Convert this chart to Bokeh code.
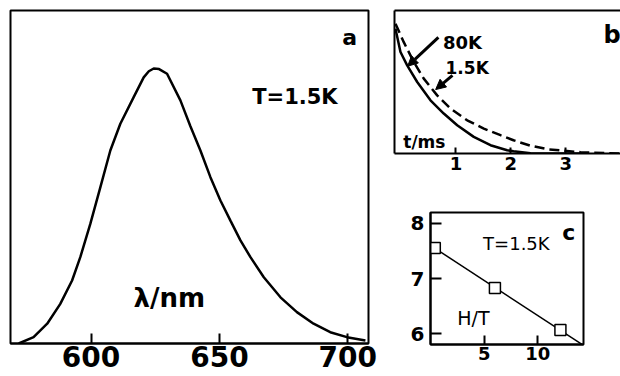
import numpy as np
from bokeh.plotting import figure
from bokeh.layouts import row, column
from bokeh.models import FixedTicker, LinearAxis, Arrow, NormalHead
from bokeh.core.properties import value
from bokeh.embed import file_html
from bokeh.resources import INLINE

FONT = "DejaVu Sans"

# ---------------- data ----------------
# panel a: emission spectrum at T = 1.5 K
wavelength_nm = [571.8, 577.6, 582.9, 588.0, 592.6, 595.8, 599.7, 603.6, 607.5,
                 611.4, 616.6, 620.5, 622.5, 624.4, 626.5, 629.6, 634.8, 638.7,
                 642.6, 646.5, 650.4, 654.3, 658.2, 662.1, 667.3, 673.8, 680.2,
                 686.7, 693.2, 699.7, 706.9]
intensity_a = [0.0, 0.023, 0.072, 0.144, 0.229, 0.314, 0.435, 0.568, 0.702,
               0.799, 0.896, 0.968, 0.99, 1.0, 0.998, 0.981, 0.884, 0.79,
               0.702, 0.605, 0.52, 0.447, 0.375, 0.314, 0.241, 0.168, 0.114,
               0.072, 0.041, 0.023, 0.011]
ticks_a = [600, 650, 700]

# panel b: decay curves
t_80K = [-0.102, -0.011, 0.111, 0.294, 0.536, 0.778, 1.023, 1.325, 1.63,
         1.934, 2.05, 2.36, 3.36]
decay_80K = [0.962, 0.782, 0.679, 0.551, 0.41, 0.308, 0.218, 0.128, 0.064,
             0.025, 0.018, 0.002, 0.0]
t_15K = [-0.102, 0.049, 0.232, 0.414, 0.658, 0.901, 1.205, 1.508, 1.812,
         2.049, 2.359, 2.669, 3.271, 4.0]
decay_15K = [1.0, 0.858, 0.705, 0.577, 0.448, 0.346, 0.256, 0.192, 0.141,
             0.102, 0.06, 0.033, 0.01, 0.0]
ticks_b = [1, 2, 3]

# panel c: field dependence
field_HT = [0.4, 6.0, 12.1]
value_c = [7.55, 6.83, 6.07]
ticks_cx = [5, 10]
ticks_cy = [6, 7, 8]


def style_common(p):
    p.grid.visible = False
    p.background_fill_color = "white"
    p.border_fill_color = "white"


def style_axis(ax, size, tick_in):
    ax.major_tick_in = tick_in
    ax.major_tick_out = 0
    ax.minor_tick_in = 0
    ax.minor_tick_out = 0
    ax.minor_tick_line_color = None
    ax.axis_line_color = "black"
    ax.axis_line_width = 2
    ax.major_tick_line_color = "black"
    ax.major_tick_line_width = 2
    ax.major_label_text_font = FONT
    ax.major_label_text_font_style = "bold"
    ax.major_label_text_font_size = size
    ax.major_label_text_color = "black"


# ---------------- panel a ----------------
pa = figure(width=385, height=376, x_range=(568.6, 708.1), y_range=(0, 1.211),
            output_backend="svg", toolbar_location=None,
            min_border_left=10, min_border_right=17, min_border_top=10,
            min_border_bottom=33)
style_common(pa)
pa.yaxis.visible = False
pa.outline_line_color = "black"
pa.outline_line_width = 2
pa.outline_line_alpha = 1
pa.xaxis.ticker = FixedTicker(ticks=ticks_a)
style_axis(pa.xaxis[0], "28px", 10)
pa.xaxis.major_label_standoff = 2
pa.line(wavelength_nm, intensity_a, line_width=2.5, line_color="black")
txt = dict(text_font=value(FONT), text_color="black", text_baseline="alphabetic")
pa.text(x=[697.9], y=[1.113], text=["a"], text_font_size="22px",
        text_font_style="bold", **txt)
pa.text(x=[662.8], y=[0.895], text=["T=1.5K"], text_font_size="21px",
        text_font_style="bold", **txt)
pa.text(x=[616.5], y=[0.164], text=["λ/nm"], text_font_size="26px",
        text_font_style="bold", **txt)

# ---------------- panel b ----------------
pb = figure(width=235, height=185, x_range=(-0.12, 4.0), y_range=(0, 1.102),
            output_backend="svg", toolbar_location=None,
            min_border_left=9, min_border_right=0, min_border_top=10,
            min_border_bottom=32)
style_common(pb)
pb.outline_line_color = None
pb.xaxis.ticker = FixedTicker(ticks=ticks_b)
style_axis(pb.xaxis[0], "18px", 6)
pb.xaxis.major_label_standoff = 3
pb.yaxis.ticker = FixedTicker(ticks=[])
style_axis(pb.yaxis[0], "1px", 0)
top_axis = LinearAxis(ticker=FixedTicker(ticks=[]))
style_axis(top_axis, "1px", 0)
pb.add_layout(top_axis, "above")
pb.line(t_80K, decay_80K, line_width=2.5, line_color="black")
pb.line(t_15K, decay_15K, line_width=2.5, line_color="black", line_dash="10 5")

head80_t = 0.12
head80_y = float(np.interp(head80_t, t_80K, decay_80K))
pb.add_layout(Arrow(end=NormalHead(size=10, fill_color="black", line_color="black"),
                    x_start=0.68, y_start=0.895, x_end=head80_t, y_end=head80_y,
                    line_width=3, line_color="black"))
head15_t = 0.63
head15_y = float(np.interp(head15_t, t_15K, decay_15K)) + 0.03
pb.add_layout(Arrow(end=NormalHead(size=10, fill_color="black", line_color="black"),
                    x_start=0.937, y_start=0.602, x_end=head15_t, y_end=head15_y,
                    line_width=3, line_color="black"))
pb.text(x=[0.763], y=[0.856], text=["80K"], text_font_size="18px",
        text_font_style="bold", **txt)
pb.text(x=[0.81], y=[0.656], text=["1.5K"], text_font_size="17px",
        text_font_style="bold", **txt)
pb.text(x=[0.04], y=[0.087], text=["t/ms"], text_font_size="17px",
        text_font_style="bold", **txt)
pb.text(x=[3.69], y=[0.91], text=["b"], text_font_size="24px",
        text_font_style="bold", **txt)

# ---------------- panel c ----------------
pc = figure(width=235, height=191, x_range=(0, 14.25), y_range=(5.81, 8.19),
            output_backend="svg", toolbar_location=None,
            min_border_left=45, min_border_right=37, min_border_top=27,
            min_border_bottom=32)
style_common(pc)
pc.outline_line_color = "black"
pc.outline_line_width = 2
pc.outline_line_alpha = 1
pc.xaxis.ticker = FixedTicker(ticks=ticks_cx)
style_axis(pc.xaxis[0], "18px", 9)
pc.xaxis.major_label_standoff = 2
pc.yaxis.ticker = FixedTicker(ticks=ticks_cy)
style_axis(pc.yaxis[0], "20px", 11)
pc.yaxis.major_label_standoff = 6

slope, intercept = np.polyfit(field_HT, value_c, 1)
fit_x = np.array([0.0, 14.25])
pc.line(fit_x, intercept + slope * fit_x, line_width=1.5, line_color="black")
pc.scatter(field_HT, value_c, marker="square", size=11, fill_color="white",
           line_color="black", line_width=1.5)
pc.text(x=[12.26], y=[7.825], text=["c"], text_font_size="22px",
        text_font_style="bold", **txt)
pc.text(x=[4.9], y=[7.627], text=["T=1.5K"], text_font_size="18px", **txt)
pc.text(x=[2.49], y=[6.294], text=["H/T"], text_font_size="19px", **txt)

layout = row(pa, column(row(pb), row(pc)))

open("out.html", "w").write(file_html(layout, INLINE))
